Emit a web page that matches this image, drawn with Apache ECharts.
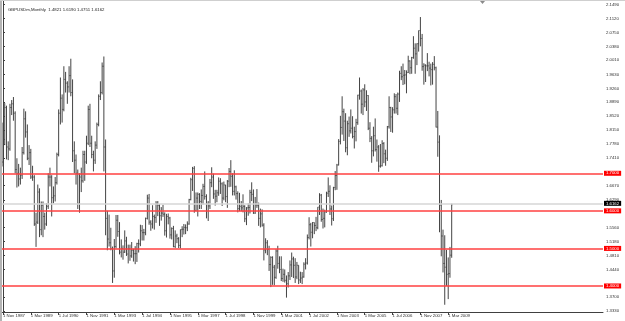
<!DOCTYPE html>
<html><head><meta charset="utf-8">
<script src="https://cdn.jsdelivr.net/npm/echarts@6/dist/echarts.min.js"></script>
<style>html,body{margin:0;padding:0;background:#fff}#c{width:625px;height:321px}</style>
</head><body><div id="c"></div>
<script>
const symbolName = 'GBPUSDm,Monthly';
const firstBarLabel = '1 Nov 1987';
const opens = [1.730,1.790,
1.875,1.770,1.765,1.875,1.885,1.860,1.710,1.700,1.685,1.695,1.755,1.845,
1.810,1.740,1.755,1.690,1.690,1.565,1.570,1.650,1.550,1.615,1.585,1.565,
1.612,1.690,1.690,1.635,1.640,1.675,1.750,1.860,1.900,1.870,1.950,1.940,
1.930,1.960,1.915,1.760,1.735,1.700,1.620,1.690,1.680,1.750,1.730,1.780,
1.870,1.780,1.750,1.735,1.775,1.830,1.905,1.915,1.985,1.770,1.580,1.525,
1.515,1.500,1.440,1.505,1.575,1.545,1.490,1.500,1.490,1.520,1.485,1.499,
1.480,1.495,1.486,1.486,1.513,1.512,1.547,1.542,1.542,1.580,1.634,1.570,
1.565,1.585,1.582,1.620,1.614,1.587,1.594,1.591,1.547,1.585,1.581,1.536,
1.553,1.505,1.533,1.526,1.508,1.550,1.551,1.556,1.555,1.565,1.630,1.683,
1.713,1.601,1.634,1.644,1.625,1.641,1.665,1.638,1.620,1.613,1.675,1.690,
1.645,1.639,1.648,1.679,1.672,1.634,1.669,1.638,1.679,1.705,1.692,1.652,
1.664,1.646,1.606,1.612,1.608,1.612,1.579,1.608,1.609,1.649,1.644,1.594,
1.616,1.615,1.580,1.592,1.562,1.496,1.515,1.497,1.457,1.476,1.450,1.423,
1.493,1.460,1.444,1.420,1.431,1.415,1.406,1.427,1.456,1.472,1.455,1.424,
1.455,1.416,1.421,1.424,1.458,1.461,1.529,1.563,1.543,1.569,1.561,1.555,
1.610,1.642,1.577,1.580,1.597,1.647,1.652,1.605,1.579,1.662,1.694,1.722,
1.785,1.822,1.864,1.839,1.768,1.832,1.813,1.820,1.798,1.811,1.835,1.908,
1.919,1.884,1.922,1.890,1.907,1.820,1.793,1.760,1.800,1.763,1.770,1.719,
1.720,1.779,1.752,1.740,1.824,1.875,1.850,1.869,1.904,1.873,1.911,1.966,
1.957,1.961,1.962,1.968,1.999,1.981,2.008,2.033,2.018,2.045,2.080,2.059,
1.984,1.988,1.986,1.986,1.980,1.976,1.990,1.981,1.823,1.783,1.615,1.533,
1.460,1.450,1.431,1.433,1.4821];
const highs = [1.835,1.887,
1.880,1.785,1.885,1.895,1.903,1.865,1.740,1.725,1.715,1.770,1.872,1.865,
1.830,1.775,1.765,1.720,1.695,1.595,1.670,1.660,1.625,1.625,1.595,1.620,
1.700,1.715,1.695,1.665,1.690,1.755,1.870,1.955,1.910,1.985,1.970,1.945,
1.985,2.005,1.950,1.785,1.750,1.710,1.700,1.715,1.760,1.760,1.800,1.880,
1.885,1.800,1.760,1.785,1.835,1.910,1.945,1.995,2.011,1.790,1.600,1.590,
1.555,1.505,1.525,1.589,1.589,1.570,1.524,1.508,1.548,1.531,1.510,1.510,
1.517,1.499,1.506,1.515,1.524,1.563,1.562,1.552,1.582,1.643,1.645,1.575,
1.615,1.590,1.626,1.626,1.618,1.610,1.616,1.596,1.592,1.593,1.584,1.556,
1.560,1.548,1.539,1.530,1.550,1.559,1.565,1.564,1.572,1.632,1.688,1.717,
1.719,1.649,1.649,1.647,1.657,1.672,1.705,1.644,1.626,1.685,1.716,1.699,
1.656,1.656,1.689,1.687,1.676,1.678,1.669,1.682,1.714,1.735,1.700,1.708,
1.667,1.652,1.648,1.626,1.644,1.615,1.610,1.620,1.656,1.676,1.657,1.637,
1.658,1.622,1.606,1.604,1.567,1.527,1.522,1.507,1.479,1.479,1.456,1.498,
1.507,1.479,1.479,1.446,1.444,1.428,1.437,1.468,1.489,1.478,1.474,1.464,
1.455,1.438,1.437,1.463,1.474,1.537,1.583,1.568,1.570,1.569,1.584,1.610,
1.647,1.645,1.606,1.603,1.651,1.689,1.668,1.614,1.664,1.706,1.725,1.791,
1.853,1.905,1.872,1.860,1.840,1.851,1.870,1.852,1.824,1.845,1.909,1.955,
1.923,1.927,1.937,1.921,1.908,1.836,1.799,1.824,1.846,1.790,1.775,1.778,
1.788,1.783,1.763,1.826,1.905,1.877,1.876,1.913,1.911,1.915,1.973,1.985,
1.992,1.975,1.974,2.013,2.001,2.010,2.065,2.046,2.046,2.080,2.116,2.071,
1.993,1.990,2.020,1.997,1.992,1.996,2.012,1.984,1.866,1.801,1.629,1.550,
1.535,1.496,1.476,1.504,1.6190];
const lows = [1.718,1.775,
1.737,1.735,1.760,1.855,1.840,1.700,1.662,1.665,1.670,1.685,1.750,1.795,
1.735,1.722,1.685,1.680,1.560,1.504,1.565,1.530,1.535,1.530,1.550,1.560,
1.605,1.665,1.585,1.620,1.625,1.670,1.745,1.830,1.835,1.865,1.915,1.885,
1.915,1.905,1.730,1.700,1.670,1.605,1.595,1.650,1.675,1.680,1.725,1.775,
1.770,1.740,1.705,1.725,1.765,1.825,1.895,1.910,1.705,1.535,1.495,1.505,
1.495,1.408,1.422,1.500,1.531,1.484,1.476,1.470,1.488,1.480,1.460,1.467,
1.475,1.465,1.458,1.464,1.489,1.506,1.521,1.521,1.535,1.577,1.563,1.547,
1.553,1.550,1.568,1.586,1.560,1.574,1.584,1.534,1.529,1.564,1.526,1.524,
1.503,1.501,1.514,1.501,1.500,1.530,1.537,1.538,1.546,1.563,1.628,1.653,
1.595,1.599,1.585,1.605,1.605,1.617,1.630,1.580,1.573,1.605,1.663,1.632,
1.614,1.623,1.640,1.645,1.613,1.628,1.623,1.608,1.663,1.664,1.641,1.641,
1.630,1.596,1.599,1.599,1.596,1.570,1.562,1.587,1.593,1.626,1.592,1.592,
1.608,1.560,1.556,1.558,1.468,1.487,1.482,1.440,1.397,1.403,1.402,1.419,
1.446,1.434,1.413,1.411,1.409,1.369,1.396,1.416,1.424,1.421,1.408,1.418,
1.405,1.408,1.405,1.422,1.444,1.457,1.524,1.505,1.527,1.538,1.546,1.551,
1.589,1.571,1.553,1.556,1.595,1.637,1.589,1.561,1.573,1.655,1.656,1.721,
1.777,1.803,1.786,1.756,1.748,1.797,1.806,1.793,1.766,1.785,1.829,1.896,
1.859,1.855,1.876,1.866,1.815,1.783,1.728,1.745,1.758,1.731,1.704,1.715,
1.718,1.727,1.720,1.733,1.819,1.810,1.808,1.859,1.859,1.855,1.890,1.948,
1.935,1.937,1.913,1.967,1.964,1.965,2.005,1.965,1.988,2.024,2.038,1.973,
1.936,1.943,1.972,1.958,1.934,1.936,1.974,1.822,1.744,1.543,1.479,1.436,
1.350,1.400,1.365,1.422,1.4751];
const closes = [1.790,1.875,
1.770,1.765,1.875,1.885,1.860,1.710,1.700,1.685,1.695,1.755,1.845,1.810,
1.740,1.755,1.690,1.690,1.565,1.570,1.650,1.550,1.615,1.585,1.565,1.612,
1.690,1.690,1.635,1.640,1.675,1.750,1.860,1.900,1.870,1.950,1.940,1.930,
1.960,1.915,1.760,1.735,1.700,1.620,1.690,1.680,1.750,1.730,1.780,1.870,
1.780,1.750,1.735,1.775,1.830,1.905,1.915,1.985,1.770,1.580,1.525,1.515,
1.500,1.440,1.505,1.575,1.545,1.490,1.500,1.490,1.520,1.485,1.499,1.480,
1.495,1.486,1.486,1.513,1.512,1.547,1.542,1.542,1.580,1.634,1.570,1.565,
1.585,1.582,1.620,1.614,1.587,1.594,1.591,1.547,1.585,1.581,1.536,1.553,
1.505,1.533,1.526,1.508,1.550,1.551,1.556,1.555,1.565,1.630,1.683,1.713,
1.601,1.634,1.644,1.625,1.641,1.665,1.638,1.620,1.613,1.675,1.690,1.645,
1.639,1.648,1.679,1.672,1.634,1.669,1.638,1.679,1.705,1.692,1.652,1.664,
1.646,1.606,1.612,1.608,1.612,1.579,1.608,1.609,1.649,1.644,1.594,1.616,
1.615,1.580,1.592,1.562,1.496,1.515,1.497,1.457,1.476,1.450,1.423,1.493,
1.460,1.444,1.420,1.431,1.415,1.406,1.427,1.456,1.472,1.455,1.424,1.455,
1.416,1.421,1.424,1.458,1.461,1.529,1.563,1.543,1.569,1.561,1.555,1.610,
1.642,1.577,1.580,1.597,1.647,1.652,1.605,1.579,1.662,1.694,1.722,1.785,
1.822,1.864,1.839,1.768,1.832,1.813,1.820,1.798,1.811,1.835,1.908,1.919,
1.884,1.922,1.890,1.907,1.820,1.793,1.760,1.800,1.763,1.770,1.719,1.720,
1.779,1.752,1.740,1.824,1.875,1.850,1.869,1.904,1.873,1.911,1.966,1.957,
1.961,1.962,1.968,1.999,1.981,2.008,2.033,2.018,2.045,2.080,2.059,1.984,
1.988,1.986,1.986,1.980,1.976,1.990,1.981,1.823,1.783,1.615,1.533,1.460,
1.450,1.431,1.433,1.482,1.6162];
const dateLabels = ['1 Nov 1987','1 Mar 1989','1 Jul 1990','1 Nov 1991','1 Mar 1993','1 Jul 1994','1 Nov 1995','1 Mar 1997','1 Jul 1998','1 Nov 1999','1 Mar 2001','1 Jul 2002','1 Nov 2003','1 Mar 2005','1 Jul 2006','1 Nov 2007','1 Mar 2009'];
const priceTicks = [2.1490,2.1120,2.0750,2.0380,2.0010,1.9630,1.9260,1.8890,1.8520,1.8150,1.7780,1.7410,1.6670,1.6290,1.5560,1.5180,1.4810,1.4440,1.3700,1.3330];
const levels = [1.7000,1.6000,1.5000,1.4000];
const currentPrice = 1.6162;

const MON = ['Jan','Feb','Mar','Apr','May','Jun','Jul','Aug','Sep','Oct','Nov','Dec'];
function monthNo(lbl){const p=lbl.split(' ');return (+p[2])*12+MON.indexOf(p[1]);}
const base = monthNo(firstBarLabel);
const labelIdx = dateLabels.map(l=>monthNo(l)-base);
const labelByIdx = {}; labelIdx.forEach((v,i)=>labelByIdx[v]=dateLabels[i]);

const data = opens.map((o,i)=>[i,o,highs[i],lows[i],closes[i]]);
const n = opens.length-1;
const FONT = 'Liberation Sans';
const BAR = '#444444';

const chart = echarts.init(document.getElementById('c'));
chart.setOption({
  animation:false,
  backgroundColor:'#ffffff',
  title:{text:symbolName+'  '+opens[n].toFixed(4)+' '+highs[n].toFixed(4)+' '+lows[n].toFixed(4)+' '+closes[n].toFixed(4),
    left:3,top:3,textStyle:{fontSize:4.3,fontWeight:'normal',color:'#222',fontFamily:FONT}},
  grid:{left:0,right:22,top:1,bottom:9,containLabel:false},
  xAxis:{type:'value',min:-1.148,max:345.0,
    axisLine:{show:true,lineStyle:{color:'#404040',width:1}},
    axisTick:{show:true,customValues:labelIdx,length:3,lineStyle:{color:'#404040'}},
    axisLabel:{customValues:labelIdx,formatter:v=>labelByIdx[Math.round(v)]||'',align:'left',margin:1.5,
      fontSize:4.3,color:'#303030',fontFamily:FONT,showMinLabel:true,showMaxLabel:true},
    splitLine:{show:false}},
  yAxis:{type:'value',position:'right',min:1.3307,max:2.1587,scale:true,
    axisLine:{show:true,lineStyle:{color:'#404040',width:1}},
    axisTick:{show:true,customValues:priceTicks,length:2,lineStyle:{color:'#404040'}},
    axisLabel:{customValues:priceTicks,formatter:v=>v.toFixed(4),margin:3,fontSize:4.3,color:'#303030',fontFamily:FONT},
    splitLine:{show:false}},
  graphic:[
    {type:'rect',left:0,top:0,shape:{width:2,height:321},style:{fill:'#b4b4b4'},z:100},
    {type:'rect',left:0,top:0,shape:{width:625,height:1},style:{fill:'#cfcfcf'},z:100},
    {type:'polygon',shape:{points:[[480,1],[485,1],[482.5,4]]},style:{fill:'#8a8a8a'},z:100}
  ],
  series:[{
    type:'custom',
    data:data,
    encode:{x:0,y:[1,2,3,4]},
    clip:true,
    renderItem:function(params,api){
      const x=api.value(0);
      const pO=api.coord([x,api.value(1)]);
      const pH=api.coord([x,api.value(2)]);
      const pL=api.coord([x,api.value(3)]);
      const pC=api.coord([x,api.value(4)]);
      const st={stroke:BAR,lineWidth:1};
      return {type:'group',children:[
        {type:'line',shape:{x1:pH[0],y1:pH[1],x2:pL[0],y2:pL[1]},style:st},
        {type:'line',shape:{x1:pO[0]-0.7,y1:pO[1],x2:pO[0],y2:pO[1]},style:st},
        {type:'line',shape:{x1:pC[0],y1:pC[1],x2:pC[0]+0.7,y2:pC[1]},style:st}
      ]};
    },
    markLine:{silent:true,symbol:['none','none'],animation:false,
      data:[
        {yAxis:currentPrice,lineStyle:{color:'#d6d6d6',width:1.5,type:'solid'},
          label:{position:'end',formatter:currentPrice.toFixed(4),backgroundColor:'#000',color:'#fff',fontSize:4.3,fontFamily:FONT,padding:[1,2,0,2],distance:1}}
      ].concat(levels.map(v=>({yAxis:v,lineStyle:{color:'#ff4040',width:1.5,type:'solid'},
          label:{position:'end',formatter:v.toFixed(4),backgroundColor:'#ff0000',color:'#fff',fontSize:4.3,fontFamily:FONT,padding:[1,2,0,2],distance:1}})))
    }
  }]
});
</script></body></html>
